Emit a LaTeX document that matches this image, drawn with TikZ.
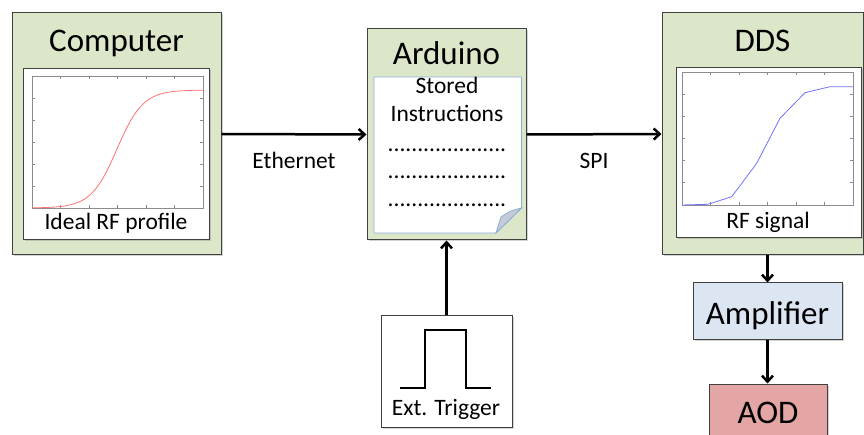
\documentclass[tikz,border=0pt]{standalone}
\usepackage{fontspec}
\setmainfont{Carlito}
\usetikzlibrary{arrows.meta,positioning,shadows}
\definecolor{boxgreen}{RGB}{220,230,200}
\definecolor{ampblue}{RGB}{220,230,242}
\definecolor{aodred}{RGB}{228,166,164}
\definecolor{noteblue}{RGB}{140,175,215}
\definecolor{foldgrey}{RGB}{196,203,215}
\definecolor{framegrey}{RGB}{64,64,64}
\newcommand{\bigfont}{\fontsize{33}{37}\selectfont}
\newcommand{\smallfont}{\fontsize{23.5}{27}\selectfont}

\begin{document}
\begin{tikzpicture}[x=1pt,y=-1pt,
  block/.style={draw=framegrey,line width=1pt,drop shadow={shadow xshift=1.5pt,shadow yshift=-1.5pt,opacity=0.35}},
  panel/.style={block,fill=white},
  title/.style={font=\bigfont,anchor=base,inner sep=0pt},
  lbl/.style={font=\smallfont,anchor=base,inner sep=0pt},
  axis/.style={draw=black!45,line width=0.7pt},
  link/.style={line width=2.5pt,-{Straight Barb[length=6pt,width=11pt]}}]
\clip (0,0) rectangle (864,435);
% computer
\node[block,fill=boxgreen,minimum width=209,minimum height=242] (computer) at (116.5,134) {};
\node[title] (comptitle) at (116.5,52) {Computer};
\node[panel,minimum width=186,minimum height=171] (compplot) at (116,154.5) {};
\draw[axis] (32,76) rectangle (203,208);
\foreach \i in {1,...,5} {\draw[axis] ({32+\i*171/6},208) -- ++(0,-3) ({32+\i*171/6},76) -- ++(0,3);
  \draw[axis] (32,{76+\i*132/6}) -- ++(3,0) (203,{76+\i*132/6}) -- ++(-3,0);}
\draw[red!55,line width=0.8pt] plot[domain=32:203,samples=80,smooth] (\x,{208-118/(1+exp(-(\x-117)/13))});
\node[lbl] (complbl) at (116,230) {Ideal RF profile};
% arduino
\node[block,fill=boxgreen,minimum width=159,minimum height=211] (arduino) at (446.5,134.5) {};
\node[title] (ardtitle) at (446.5,65) {Arduino};
\draw[noteblue,line width=0.8pt,fill=white] (374,77) -- (521.5,77) -- (521.5,208) -- (496,233) -- (374,233) -- cycle;
\draw[noteblue,line width=0.8pt,fill=foldgrey] (521.5,208) .. controls (510,211) .. (501,217) -- (496,233) -- cycle;
\node[lbl] (stored) at (447,94) {Stored};
\node[lbl] (instr) at (447,121.5) {Instructions};
\foreach \y/\n in {151.5/dotsa,179/dotsb,207/dotsc} \node[lbl] (\n) at (447,\y) {....................};
% dds
\node[block,fill=boxgreen,minimum width=201,minimum height=242] (dds) at (762.5,134) {};
\node[title] (ddstitle) at (762.5,52) {DDS};
\node[panel,minimum width=185,minimum height=170] (ddsplot) at (768.5,153) {};
\draw[axis] (682,72) rectangle (853,205);
\foreach \i in {1,...,5} {\draw[axis] ({682+\i*171/6},205) -- ++(0,-3) ({682+\i*171/6},72) -- ++(0,3);
  \draw[axis] (682,{72+\i*133/6}) -- ++(3,0) (853,{72+\i*133/6}) -- ++(-3,0);}
\draw[blue!55,line width=0.8pt] (682,205) -- (708,204.3) -- (731.7,196.7) -- (756.7,163.3) -- (780,118.3) -- (805,92.7) -- (830,86.7) -- (853,86.7);
\node[lbl] (ddslbl) at (768,228.5) {RF signal};
% trigger
\node[panel,minimum width=131,minimum height=111] (trigger) at (446.5,371.5) {};
\draw[line width=2.5pt] (400,388) -- (425,388) -- (425,330) -- (466,330) -- (466,388) -- (491,388);
\node[lbl] (trglbl) at (446,415) {Ext. Trigger};
% amplifier and aod
\node[block,fill=ampblue,minimum width=149,minimum height=56] (amp) at (767.5,311) {};
\node[title] (amptitle) at (767.5,324) {Amplifier};
\node[block,fill=aodred,minimum width=118,minimum height=56] (aod) at (768,412) {};
\node[title] (aodtitle) at (768,423) {AOD};
% links
\draw[link] (computer.east) -- node[lbl,yshift=-34pt] (eth) {Ethernet} (arduino.west);
\draw[link] (arduino.east) -- node[lbl,yshift=-34pt] (spi) {SPI} (dds.west);
\draw[link] (trigger) -- (arduino);
\draw[link] (amp.north |- dds.south) -- (amp.north);
\draw[link] (amp.south) -- (amp.south |- aod.north);
\end{tikzpicture}
\end{document}
